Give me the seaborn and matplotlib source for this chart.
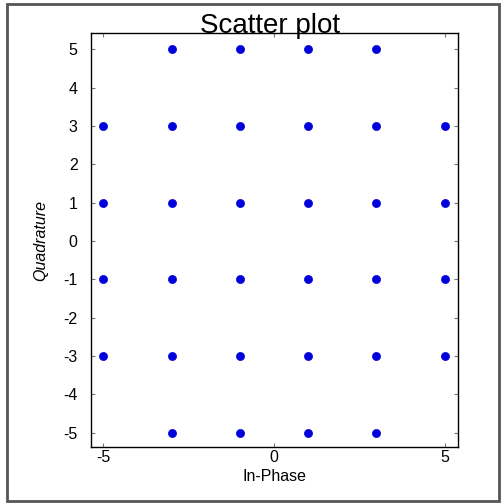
import matplotlib
matplotlib.use("Agg")
import matplotlib.pyplot as plt
from matplotlib.patches import Rectangle
import seaborn as sns
import pandas as pd

# 32-QAM cross constellation: in-phase / quadrature symbol coordinates
in_phase = [-3, -1, 1, 3,
            -5, -3, -1, 1, 3, 5,
            -5, -3, -1, 1, 3, 5,
            -5, -3, -1, 1, 3, 5,
            -5, -3, -1, 1, 3, 5,
            -3, -1, 1, 3]
quadrature = [5, 5, 5, 5,
              3, 3, 3, 3, 3, 3,
              1, 1, 1, 1, 1, 1,
              -1, -1, -1, -1, -1, -1,
              -3, -3, -3, -3, -3, -3,
              -5, -5, -5, -5]

x_ticks = [-5, 0, 5]
y_ticks = [-5, -4, -3, -2, -1, 0, 1, 2, 3, 4, 5]

sns.set_style("white")
plt.rcParams["font.family"] = ["Liberation Sans", "DejaVu Sans"]
plt.rcParams["text.color"] = "black"
plt.rcParams["axes.labelcolor"] = "black"

df = pd.DataFrame({"I": in_phase, "Q": quadrature})

fig = plt.figure(figsize=(5.01, 5.04), dpi=100)
ax = fig.add_axes([0.1826, 0.113, 0.732, 0.8215])

sns.scatterplot(data=df, x="I", y="Q", ax=ax, color="#0000dd",
                marker="o", s=34, edgecolor="#0000dd", linewidth=0.5)

ax.set_xlim(-5.35, 5.4)
ax.set_ylim(-5.37, 5.42)
ax.set_xticks(x_ticks)
ax.set_yticks(y_ticks)
ax.set_xticklabels([str(v) for v in x_ticks])
ax.set_yticklabels([str(v) for v in y_ticks])
ax.tick_params(direction="in", length=3, width=0.8, color="#777777",
               top=True, right=True, bottom=True, left=True,
               labelsize=11.5, labelcolor="black")
ax.tick_params(axis="y", pad=10)
ax.tick_params(axis="x", pad=2)

for sp in ax.spines.values():
    sp.set_visible(True)
    sp.set_color("black")
    sp.set_linewidth(1.0)

ax.set_xlabel("In-Phase", fontsize=11.5, labelpad=3)
ax.set_ylabel("Quadrature", fontsize=11.5, style="italic", labelpad=11)

fig.text(0.539, 0.934, "Scatter plot", ha="center", va="baseline",
         fontsize=20, color="black")

# outer frame around the whole figure
fig.patches.append(Rectangle((0.014, 0.006), 0.982, 0.987, transform=fig.transFigure,
                             fill=False, edgecolor="#555555", linewidth=2))

fig.savefig("out.png", dpi=100)
